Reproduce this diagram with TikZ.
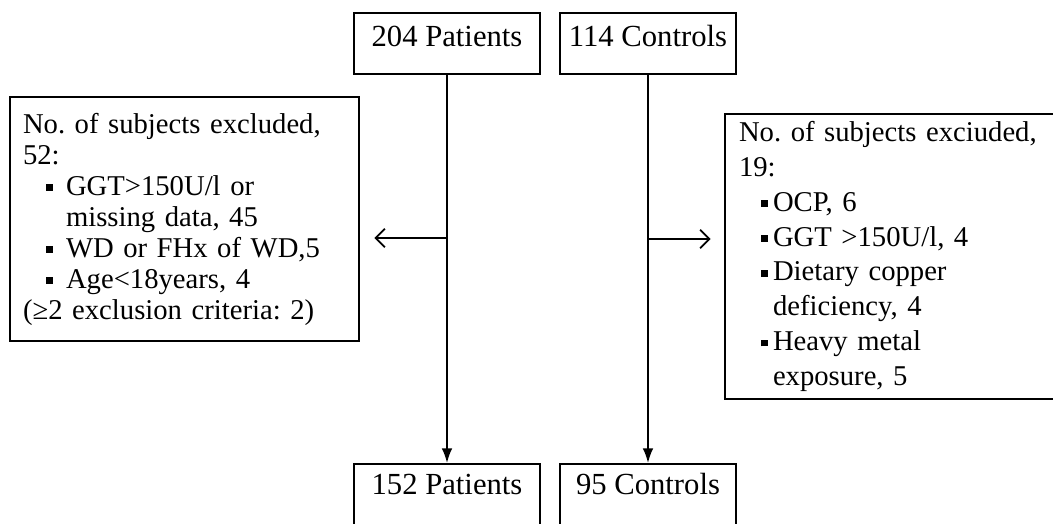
\documentclass[tikz,border=0pt]{standalone}
\usepackage{fontspec}
\setmainfont{Liberation Serif}
\usetikzlibrary{arrows.meta}
\frenchspacing
\newcommand{\sqbul}[2]{\hspace*{#1}\makebox[#2][l]{\raisebox{0.15em}{\rule{5pt}{5pt}}}}
\begin{document}
\begin{tikzpicture}[x=0.75pt,y=-0.75pt,
  every node/.style={font=\fontsize{23}{23.25}\selectfont},
  cnt/.style={draw=black,line width=1.5pt,inner xsep=0pt,inner ysep=11.5pt,text height=14pt,text depth=8.75pt},
  cntlow/.style={cnt,anchor=north,text height=11pt,text depth=40pt},
  exbox/.style={draw=black,line width=1.5pt,anchor=north west,align=left,inner xsep=9.75pt},
  flow/.style={line width=1.3pt,-{Latex[length=11pt,width=8pt]}},
  side/.style={line width=1.3pt,-{Straight Barb[length=7pt,width=14pt]}}]
\useasboundingbox (0,0) rectangle (1053,524);
\clip (0,0) rectangle (1053,524);
\node[cnt,minimum width=139.5pt] (pat0) at (447,43.5) {204 Patients};
\node[cnt,minimum width=132pt] (con0) at (648,43.5) {114 Controls};
\node[cntlow,minimum width=139.5pt] (pat1) at (447,463) {152 Patients};
\node[cntlow,minimum width=132pt] (con1) at (648,463) {95 Controls};
\node[exbox,text width=242pt,inner ysep=12pt,font=\fontsize{21.5}{23.25}\selectfont] (exPat) at (9,96) {No. of subjects excluded,\\
52:\\
\sqbul{17.25pt}{15pt}GGT>150U/l or\\
\hspace*{32.25pt}missing data, 45\\
\sqbul{17.25pt}{15pt}WD or FHx of WD,5\\
\sqbul{17.25pt}{15pt}Age<18years, 4\\
(≥2 exclusion criteria: 2)};
\node[exbox,text width=250pt,minimum height=213.75pt,inner xsep=10.5pt,font=\fontsize{21.5}{26.14}\selectfont] (exCon) at (724,113) {No. of subjects exciuded,\\
19:\\
\sqbul{16.5pt}{9pt}OCP, 6\\
\sqbul{16.5pt}{9pt}GGT >150U/l, 4\\
\sqbul{16.5pt}{9pt}Dietary copper\\
\hspace*{25.5pt}deficiency, 4\\
\sqbul{16.5pt}{9pt}Heavy metal\\
\hspace*{25.5pt}exposure, 5};
\coordinate (lsplit) at (447,238);
\coordinate (rsplit) at (648,239);
\path[flow] (pat0) edge (pat1);
\path[flow] (con0) edge (con1);
\path[side] (lsplit) edge[shorten >=11pt] (exPat.east |- lsplit);
\path[side] (rsplit) edge[shorten >=10pt] (exCon.west |- rsplit);
\end{tikzpicture}
\end{document}
